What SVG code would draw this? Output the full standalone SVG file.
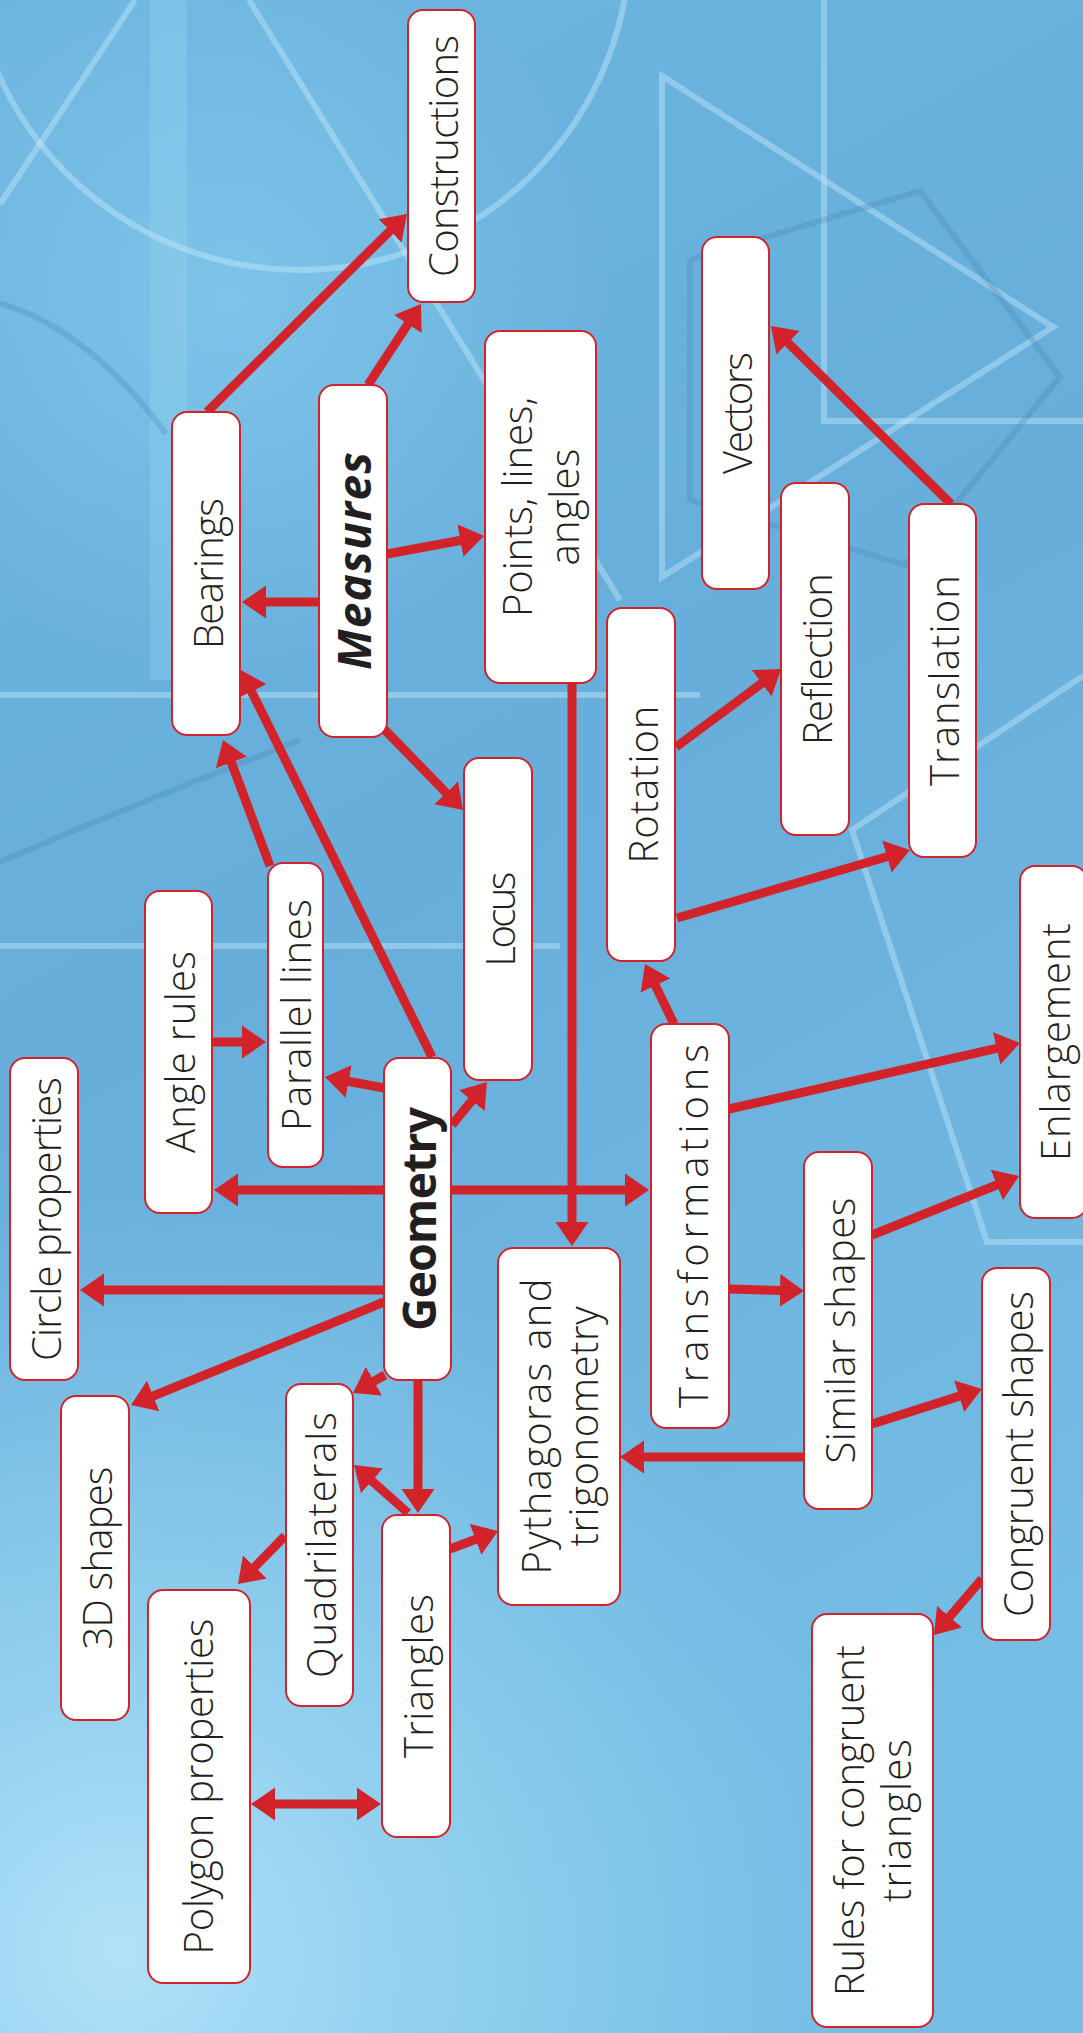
<svg xmlns="http://www.w3.org/2000/svg" width="1083" height="2033" viewBox="0 0 1083 2033">
<defs>
<linearGradient id="bg" x1="0" y1="0" x2="0.3" y2="1">
<stop offset="0" stop-color="#6cb6e0"/>
<stop offset="0.5" stop-color="#67aedb"/>
<stop offset="1" stop-color="#74bde4"/>
</linearGradient>
<radialGradient id="glow" cx="120" cy="1950" r="760" gradientUnits="userSpaceOnUse">
<stop offset="0" stop-color="#b4e4f9" stop-opacity="0.95"/>
<stop offset="0.6" stop-color="#9ad6f2" stop-opacity="0.5"/>
<stop offset="1" stop-color="#8fd0f0" stop-opacity="0"/>
</radialGradient>
<radialGradient id="glow2" cx="230" cy="300" r="380" gradientUnits="userSpaceOnUse">
<stop offset="0" stop-color="#8fd2f2" stop-opacity="0.55"/>
<stop offset="1" stop-color="#8fd2f2" stop-opacity="0"/>
</radialGradient>
<marker id="ah" viewBox="0 -17 24 34" refX="16" refY="0" markerWidth="24" markerHeight="34" markerUnits="userSpaceOnUse" orient="auto-start-reverse">
<path d="M0,-16.5 L24,0 L0,16.5 z" fill="#d2232a"/>
</marker>
<style>
.n rect{fill:#ffffff;stroke:#d2232a;stroke-width:2}
.t{font-family:"Open Sans","DejaVu Sans",sans-serif;font-weight:300;font-size:40px;fill:#231f20;text-anchor:middle}
.b{font-weight:700;font-size:46px}
.e line{stroke:#d2232a;stroke-width:9;marker-end:url(#ah)}
.lt{fill:none;stroke:#cdeefc;stroke-opacity:0.4;stroke-width:6}
.dk{fill:none;stroke:#3f7aa8;stroke-opacity:0.25;stroke-width:6}
</style>
</defs>

<g id="background">
<rect width="1083" height="2033" fill="url(#bg)"/>
<rect width="1083" height="2033" fill="url(#glow2)"/>
<rect width="1083" height="2033" fill="url(#glow)"/>
<rect x="150" y="0" width="37" height="680" fill="#9ad8f5" opacity="0.3"/>
<circle cx="300" cy="-60" r="330" class="lt"/>
<line x1="135" y1="0" x2="0" y2="204" class="lt"/>
<line x1="249" y1="0" x2="620" y2="600" class="lt"/>
<polygon points="662,76 1053,327 662,577" class="lt"/>
<polyline points="824,0 824,421 1083,421" class="lt"/>
<line x1="0" y1="695" x2="700" y2="695" class="lt"/>
<line x1="0" y1="946" x2="560" y2="946" class="lt"/>
<polyline points="1083,676 852,830 987,1242 1083,1242" class="lt"/>
<polygon points="690,260 920,191 1060,377 905,565 690,500" class="dk"/>
<path d="M0,303 Q90,330 166,434" class="dk"/>
<path d="M0,862 Q120,810 300,740" class="dk"/>
</g>

<g id="connectors" class="e">
<line x1="207" y1="412" x2="401.3" y2="219.6"/>
<line x1="368" y1="385" x2="416.6" y2="310.7"/>
<line x1="387" y1="554" x2="476.1" y2="537.5"/>
<line x1="319" y1="602" x2="250" y2="602"/>
<line x1="432" y1="1057" x2="244.5" y2="677.2"/>
<line x1="270" y1="866" x2="225.8" y2="747.5"/>
<line x1="383" y1="728" x2="457.4" y2="804.3"/>
<line x1="212" y1="1042" x2="258" y2="1042"/>
<line x1="384" y1="1088" x2="332.9" y2="1078.5"/>
<line x1="452" y1="1125" x2="481.9" y2="1088.2"/>
<line x1="384" y1="1190" x2="222" y2="1190"/>
<line x1="451" y1="1190" x2="641" y2="1190"/>
<line x1="384" y1="1290" x2="88" y2="1290"/>
<line x1="384" y1="1302" x2="138.4" y2="1402"/>
<line x1="572" y1="683" x2="572" y2="1238"/>
<line x1="674" y1="1024" x2="648.5" y2="971.2"/>
<line x1="676" y1="747" x2="774.6" y2="673.8"/>
<line x1="677" y1="918" x2="902.3" y2="852.2"/>
<line x1="951" y1="504" x2="776.7" y2="331.6"/>
<line x1="729" y1="1109" x2="1012.2" y2="1044.8"/>
<line x1="729" y1="1289" x2="796" y2="1290.8"/>
<line x1="872" y1="1235" x2="1011.6" y2="1179"/>
<line x1="385" y1="1375" x2="360" y2="1389.1"/>
<line x1="418" y1="1380" x2="418" y2="1505"/>
<line x1="408" y1="1513" x2="360" y2="1470.3"/>
<line x1="285" y1="1536" x2="243.6" y2="1578.3"/>
<line x1="259" y1="1804" x2="373" y2="1804" style="marker-start:url(#ah)"/>
<line x1="450" y1="1549" x2="490.5" y2="1533.8"/>
<line x1="804" y1="1457" x2="628" y2="1457"/>
<line x1="872" y1="1424" x2="974.4" y2="1391.4"/>
<line x1="982" y1="1579" x2="939.2" y2="1628.9"/>
</g>

<g id="constructions" class="n"><rect x="408" y="10" width="67" height="292" rx="15"/><text class="t" transform="translate(441.5,156) rotate(-90)" y="16.5" textLength="242">Constructions</text></g>
<g id="bearings" class="n"><rect x="172" y="412" width="68" height="323" rx="15"/><text class="t" transform="translate(206,573.5) rotate(-90)" y="16.5" textLength="151">Bearings</text></g>
<g id="measures" class="n"><rect x="319" y="385" width="68" height="352" rx="15"/><text class="t b" transform="translate(353,561) rotate(-90)" y="18" font-style="italic" textLength="218">Measures</text></g>
<g id="points" class="n"><rect x="485" y="331" width="111" height="352" rx="15"/><text class="t" transform="translate(540.5,507) rotate(-90)"><tspan x="0" y="-8.5" textLength="220">Points, lines,</tspan><tspan x="0" y="38" textLength="117">angles</tspan></text></g>
<g id="vectors" class="n"><rect x="702" y="237" width="67" height="352" rx="15"/><text class="t" transform="translate(735.5,413) rotate(-90)" y="16.5" textLength="122">Vectors</text></g>
<g id="reflection" class="n"><rect x="781" y="483" width="68" height="352" rx="15"/><text class="t" transform="translate(815,659) rotate(-90)" y="16.5" textLength="172">Reflection</text></g>
<g id="translation" class="n"><rect x="909" y="504" width="67" height="353" rx="15"/><text class="t" transform="translate(942.5,680.5) rotate(-90)" y="16.5" textLength="211">Translation</text></g>
<g id="rotation" class="n"><rect x="607" y="608" width="68" height="353" rx="15"/><text class="t" transform="translate(641,784.5) rotate(-90)" y="16.5" textLength="158">Rotation</text></g>
<g id="locus" class="n"><rect x="464" y="758" width="68" height="322" rx="15"/><text class="t" transform="translate(498,919) rotate(-90)" y="16.5" textLength="95">Locus</text></g>
<g id="parallel-lines" class="n"><rect x="268" y="863" width="55" height="304" rx="15"/><text class="t" transform="translate(295.5,1015) rotate(-90)" y="15.5" textLength="232">Parallel lines</text></g>
<g id="angle-rules" class="n"><rect x="145" y="891" width="67" height="322" rx="15"/><text class="t" transform="translate(178.5,1052) rotate(-90)" y="16.5" textLength="202">Angle rules</text></g>
<g id="circle-properties" class="n"><rect x="10" y="1058" width="68" height="322" rx="15"/><text class="t" transform="translate(44,1219) rotate(-90)" y="16.5" textLength="284">Circle properties</text></g>
<g id="geometry" class="n"><rect x="384" y="1058" width="67" height="322" rx="15"/><text class="t b" transform="translate(417.5,1219) rotate(-90)" y="18.5" textLength="224">Geometry</text></g>
<g id="transformations" class="n"><rect x="651" y="1024" width="78" height="404" rx="15"/><text class="t" transform="translate(690,1226) rotate(-90)" y="18" font-size="50" textLength="364">Transformations</text></g>
<g id="enlargement" class="n"><rect x="1020" y="866" width="67" height="352" rx="15"/><text class="t" transform="translate(1053.5,1042) rotate(-90)" y="16.5" textLength="238">Enlargement</text></g>
<g id="similar-shapes" class="n"><rect x="804" y="1152" width="68" height="357" rx="15"/><text class="t" transform="translate(838,1330.5) rotate(-90)" y="16.5" textLength="266">Similar shapes</text></g>
<g id="congruent-shapes" class="n"><rect x="982" y="1268" width="68" height="372" rx="15"/><text class="t" transform="translate(1016,1454) rotate(-90)" y="16.5" textLength="326">Congruent shapes</text></g>
<g id="pythagoras" class="n"><rect x="498" y="1248" width="122" height="357" rx="15"/><text class="t" transform="translate(559,1426.5) rotate(-90)"><tspan x="0" y="-8.5" textLength="296">Pythagoras and</tspan><tspan x="0" y="39" textLength="240">trigonometry</tspan></text></g>
<g id="3d-shapes" class="n"><rect x="61" y="1396" width="68" height="324" rx="15"/><text class="t" transform="translate(95,1558) rotate(-90)" y="16.5" textLength="183">3D shapes</text></g>
<g id="quadrilaterals" class="n"><rect x="286" y="1384" width="67" height="322" rx="15"/><text class="t" transform="translate(319.5,1545) rotate(-90)" y="16.5" textLength="266">Quadrilaterals</text></g>
<g id="triangles" class="n"><rect x="382" y="1515" width="68" height="322" rx="15"/><text class="t" transform="translate(416,1676) rotate(-90)" y="16.5" textLength="164">Triangles</text></g>
<g id="polygon-properties" class="n"><rect x="148" y="1590" width="102" height="393" rx="15"/><text class="t" transform="translate(199,1786.5) rotate(-90)" y="14" textLength="336">Polygon properties</text></g>
<g id="rules-congruent" class="n"><rect x="812" y="1614" width="121" height="413" rx="15"/><text class="t" transform="translate(872.5,1820.5) rotate(-90)"><tspan x="0" y="-8.5" textLength="351">Rules for congruent</tspan><tspan x="0" y="38" textLength="163">triangles</tspan></text></g>
</svg>
